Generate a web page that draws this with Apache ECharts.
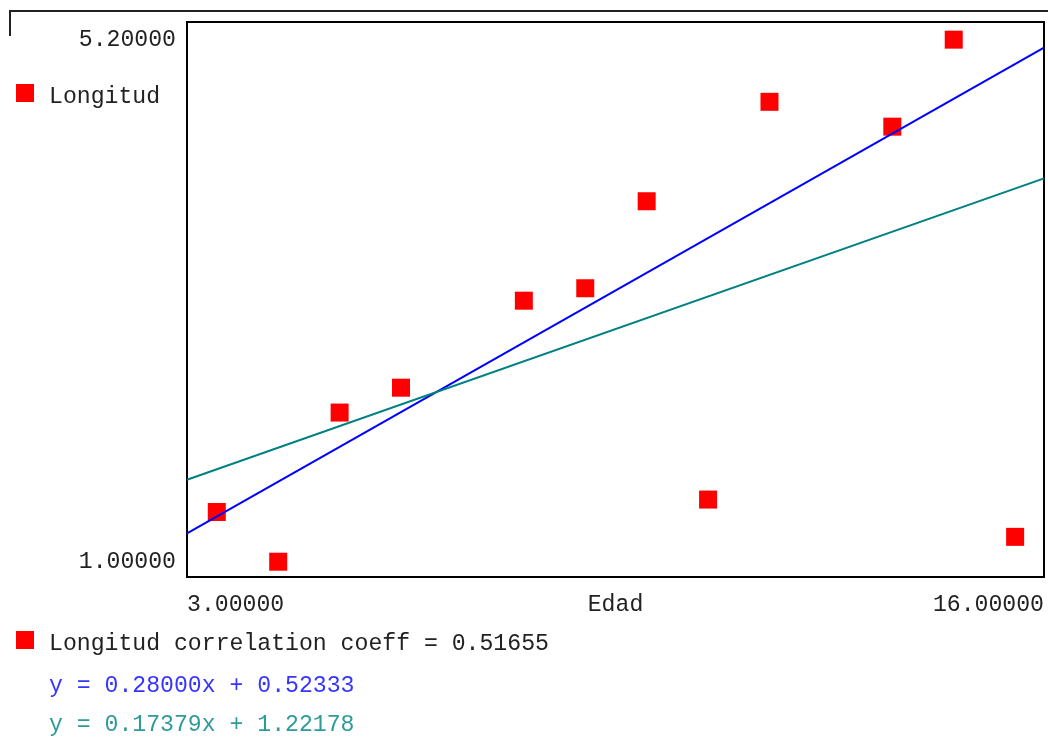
<!DOCTYPE html>
<html>
<head>
<meta charset="utf-8">
<script src="https://cdn.jsdelivr.net/npm/echarts@6/dist/echarts.min.js"></script>
<style>
  html, body { margin: 0; padding: 0; background: #fff; }
  #chart { width: 1048px; height: 747px; }
</style>
</head>
<body>
<div id="chart"></div>
<script>
// Age (Edad) and length (Longitud) observations
const edad = [3, 4, 5, 6, 8, 9, 10, 11, 12, 14, 15, 16];
const longitud = [1.4, 1.0, 2.2, 2.4, 3.1, 3.2, 3.9, 1.5, 4.7, 4.5, 5.2, 1.2];

// Axis extents and labelled ticks
const xRange = [2.515, 16.47];
const yRange = [0.877, 5.342];
const yTicks = [1.0, 5.2];
const xTicks = [3.0, 16.0];

const FONT = '"Liberation Mono", "Courier New", monospace';
const FS = 23.15;

// Least-squares fit and correlation coefficient
function leastSquares(xs, ys) {
  const n = xs.length;
  const mx = xs.reduce((a, b) => a + b, 0) / n;
  const my = ys.reduce((a, b) => a + b, 0) / n;
  let sxy = 0, sxx = 0, syy = 0;
  for (let i = 0; i < n; i++) {
    sxy += (xs[i] - mx) * (ys[i] - my);
    sxx += (xs[i] - mx) * (xs[i] - mx);
    syy += (ys[i] - my) * (ys[i] - my);
  }
  const slope = sxy / sxx;
  return { slope, intercept: my - slope * mx, r: sxy / Math.sqrt(sxx * syy) };
}

// Tukey resistant line (medians of thirds)
function median(a) {
  const s = a.slice().sort((p, q) => p - q);
  const m = Math.floor(s.length / 2);
  return s.length % 2 ? s[m] : (s[m - 1] + s[m]) / 2;
}
function resistantLine(xs, ys) {
  const idx = xs.map((_, i) => i).sort((a, b) => xs[a] - xs[b]);
  const k = Math.round(idx.length / 3);
  const groups = [idx.slice(0, k), idx.slice(k, idx.length - k), idx.slice(idx.length - k)];
  const med = groups.map(g => [median(g.map(i => xs[i])), median(g.map(i => ys[i]))]);
  const slope = (med[2][1] - med[0][1]) / (med[2][0] - med[0][0]);
  const intercept = med.reduce((s, m) => s + (m[1] - slope * m[0]), 0) / 3;
  return { slope, intercept };
}

const ls = leastSquares(edad, longitud);
const rl = resistantLine(edad, longitud);
const points = edad.map((x, i) => [x, longitud[i]]);
const lineOver = fit => xRange.map(x => [x, fit.slope * x + fit.intercept]);
const eqText = fit => 'y = ' + fit.slope.toFixed(5) + 'x + ' + fit.intercept.toFixed(5);

// Legend text sits a little below the centre of its square
const legendText = {
  fontFamily: FONT, fontSize: FS, color: '#222', padding: [0, 0, 0, 10],
  rich: { t: { fontFamily: FONT, fontSize: FS, color: '#222', padding: [8, 0, 0, 0] } }
};

const chart = echarts.init(document.getElementById('chart'), null, { renderer: 'canvas' });
chart.setOption({
  animation: false,
  backgroundColor: '#ffffff',
  textStyle: { fontFamily: FONT },
  grid: {
    left: 187, top: 22, right: 4, bottom: 170,
    show: true, borderColor: '#000', borderWidth: 2, backgroundColor: 'transparent'
  },
  xAxis: {
    type: 'value',
    min: xRange[0], max: xRange[1],
    name: 'Edad', nameLocation: 'middle', nameGap: 16, nameMoveOverlap: false,
    nameTextStyle: { fontFamily: FONT, fontSize: FS, color: '#222', verticalAlign: 'top' },
    axisLine: { show: false }, axisTick: { show: false }, splitLine: { show: false },
    axisLabel: {
      customValues: xRange,
      formatter: (v) => (v < (xRange[0] + xRange[1]) / 2 ? xTicks[0] : xTicks[1]).toFixed(5),
      alignMinLabel: 'left', alignMaxLabel: 'right',
      showMinLabel: true, showMaxLabel: true,
      margin: 16, fontFamily: FONT, fontSize: FS, color: '#222'
    }
  },
  yAxis: {
    type: 'value',
    min: yRange[0], max: yRange[1],
    axisLine: { show: false }, axisTick: { show: false }, splitLine: { show: false },
    axisLabel: {
      customValues: yTicks,
      formatter: (v) => v.toFixed(5),
      showMinLabel: true, showMaxLabel: true,
      margin: 11, fontFamily: FONT, fontSize: FS, color: '#222'
    }
  },
  legend: [
    {
      left: 11, top: 79, orient: 'vertical', icon: 'rect',
      itemWidth: 18, itemHeight: 18, selectedMode: false,
      data: ['Longitud'],
      formatter: (name) => '{t|' + name + '}',
      textStyle: legendText
    },
    {
      left: 11, top: 626, orient: 'vertical', icon: 'rect',
      itemWidth: 18, itemHeight: 18, selectedMode: false,
      data: ['Longitud'],
      formatter: (name) => '{t|' + name + ' correlation coeff = ' + ls.r.toFixed(5) + '}',
      textStyle: legendText
    }
  ],
  graphic: [
    {
      type: 'polyline', silent: true,
      shape: { points: [[10, 36], [10, 11], [1048, 11]] },
      style: { stroke: '#222', lineWidth: 2, fill: null }
    },
    {
      type: 'text', left: 49, top: 674, silent: true,
      style: { text: eqText(rl), fill: '#3535ff', font: FS + 'px ' + FONT }
    },
    {
      type: 'text', left: 49, top: 713, silent: true,
      style: { text: eqText(ls), fill: '#2f9a9a', font: FS + 'px ' + FONT }
    }
  ],
  series: [
    {
      name: 'Longitud', type: 'scatter', symbol: 'rect', symbolSize: 18,
      itemStyle: { color: '#ff0000', opacity: 1 },
      data: points
    },
    {
      name: 'resistant', type: 'line', showSymbol: false, symbol: 'none',
      lineStyle: { color: '#0000ff', width: 2 },
      data: lineOver(rl)
    },
    {
      name: 'leastSquares', type: 'line', showSymbol: false, symbol: 'none',
      lineStyle: { color: '#008080', width: 2 },
      data: lineOver(ls)
    }
  ]
});
</script>
</body>
</html>
